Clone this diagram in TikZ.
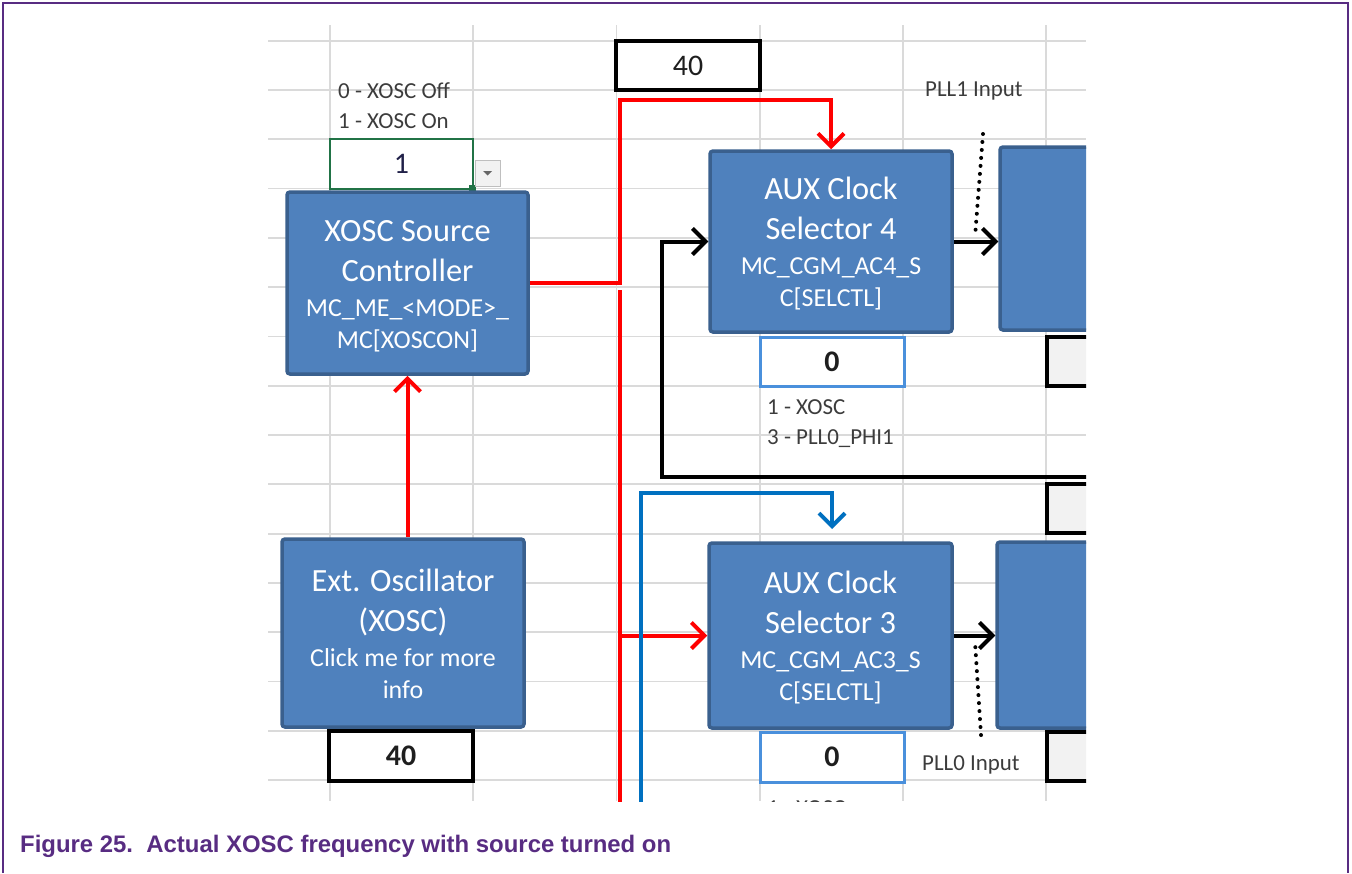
\documentclass[tikz,border=0pt]{standalone}
\usepackage{fontspec}
\setmainfont{Carlito}
\newfontfamily\capfont{Liberation Sans}
\usetikzlibrary{arrows.meta,calc}

\definecolor{framepurple}{RGB}{88,44,130}
\definecolor{cellgrid}{RGB}{218,218,218}
\definecolor{blkfill}{RGB}{79,129,189}
\definecolor{blkedge}{RGB}{58,96,142}
\definecolor{xred}{RGB}{255,0,0}
\definecolor{xblue}{RGB}{0,112,192}
\definecolor{selblue}{RGB}{74,144,220}
\definecolor{xgreen}{RGB}{33,115,70}
\definecolor{labelgray}{RGB}{60,60,60}
\definecolor{cellfill}{RGB}{242,242,242}
\definecolor{valink}{RGB}{30,30,30}
\definecolor{oneink}{RGB}{32,32,72}

% four centred text lines inside a block: two title lines, two register lines
\newcommand\blocktext[5]{%
  \node[ttl] (#1-l1) at ($(#1.center)+(0,-42)$) {#2};
  \node[ttl] (#1-l2) at ($(#1.center)+(0,-2)$) {#3};
  \node[reg] (#1-l3) at ($(#1.center)+(0,33)$) {#4};
  \node[reg] (#1-l4) at ($(#1.center)+(0,65)$) {#5};
}

\begin{document}
\begin{tikzpicture}[x=1bp, y=-1bp,
  blk/.style={draw=blkedge, fill=blkfill, line width=3.5bp, rounded corners=3bp, inner sep=0},
  ttl/.style={text=white, font=\fontsize{32.5}{38}\selectfont, anchor=base, inner sep=0},
  reg/.style={text=white, font=\fontsize{26}{30}\selectfont, anchor=base, inner sep=0},
  valbox/.style={fill=white, line width=3.5bp, inner sep=0, text=valink,
                 font=\fontsize{30}{36}\selectfont},
  graycell/.style={draw=black, fill=cellfill, line width=3.5bp, inner sep=0},
  lbl/.style={text=labelgray, font=\fontsize{23}{28}\selectfont, anchor=base west, inner sep=0},
  wire/.style={line width=4bp},
  arrowhd/.style={-{Straight Barb[length=13bp,width=26bp]}},
  dotline/.style={line width=4bp, line cap=round, dash pattern=on 0bp off 8bp},
  cellline/.style={draw=cellgrid, line width=1.8bp}]

\useasboundingbox (0,0) rectangle (1352,873);
\fill[white] (0,0) rectangle (1352,873);

% page frame and caption
\draw[framepurple, line width=2.5bp] (3,873) -- (3,3) -- (1348,3) -- (1348,873);
\node[anchor=base west, inner sep=0, text=framepurple,
      font=\capfont\bfseries\fontsize{24}{28}\selectfont] (cap) at (20,852)
  {Figure 25.\hspace{0.556em}Actual XOSC frequency with source turned on};

\begin{scope}
\clip (268,22) rectangle (1086,801);

% worksheet cell grid
\foreach \k in {0,...,15}
  \draw[cellline] (268,{40.7+49.29*\k}) -- (1086,{40.7+49.29*\k});
\foreach \x in {330,473.2,616.4,759.6,902.8,1046}
  \draw[cellline] (\x,25) -- (\x,801);

% value cells
\node[valbox, draw=black, minimum width=144bp, minimum height=49bp] (top40) at (688,65.5) {40};
\node[valbox, draw=xgreen, line width=2.2bp, text=oneink, minimum width=143bp, minimum height=50bp] (grn) at (401.5,164) {1};
\fill[xgreen] (469,185) rectangle (476,192);
\node[draw=black!25, fill=black!5, line width=1bp, minimum width=25bp, minimum height=26bp, inner sep=0] (dd) at (487.5,173) {};
\fill[black!60] ($(dd.center)+(-4.5,-2)$) -- ++(9,0) -- ++(-4.5,4.5) -- cycle;
\node[valbox, draw=selblue, line width=3bp, font=\fontsize{30}{36}\selectfont\bfseries, minimum width=144bp, minimum height=49bp] (sel4) at (832,361.5) {0};
\node[valbox, draw=selblue, line width=3bp, font=\fontsize{30}{36}\selectfont\bfseries, minimum width=144bp, minimum height=50bp] (sel3) at (832,757) {0};
\node[valbox, draw=black, font=\fontsize{30}{36}\selectfont\bfseries, minimum width=144bp, minimum height=50bp] (bot40) at (401,756) {40};
\node[graycell, minimum width=80bp, minimum height=49bp] (g1) at (1087,361.5) {};
\node[graycell, minimum width=80bp, minimum height=49bp] (g2) at (1087,508.5) {};
\node[graycell, minimum width=80bp, minimum height=49bp] (g3) at (1087,756.5) {};

% function blocks
\node[blk, minimum width=241bp, minimum height=182bp] (ctl) at (407.5,283) {};
\node[blk, minimum width=242bp, minimum height=188bp] (ext) at (403,633) {};
\node[blk, minimum width=242bp, minimum height=181bp] (aux4) at (831,241.5) {};
\node[blk, minimum width=243bp, minimum height=185bp] (aux3) at (830.5,635.5) {};
\node[blk, minimum width=110bp, minimum height=183bp] (r1) at (1055,238.5) {};
\node[blk, minimum width=113bp, minimum height=186bp] (r2) at (1053.5,635) {};

\blocktext{ctl}{XOSC Source}{Controller}{MC\_ME\_<MODE>\_}{MC[XOSCON]}
\blocktext{ext}{Ext. Oscillator}{(XOSC)}{Click me for more}{info}
\blocktext{aux4}{AUX Clock}{Selector 4}{MC\_CGM\_AC4\_S}{C[SELCTL]}
\blocktext{aux3}{AUX Clock}{Selector 3}{MC\_CGM\_AC3\_S}{C[SELCTL]}

% cell notes
\node[lbl] (offnote) at (338,98) {0 - XOSC Off};
\node[lbl] (onnote) at (338,128) {1 - XOSC On};
\node[lbl] (sel4n1) at (767,414) {1 - XOSC};
\node[lbl] (sel4n2) at (767,444) {3 - PLL0\_PHI1};
\node[lbl] (sel3n1) at (767,815) {1 - XOSC};
\node[lbl] (pll1) at (925,96) {PLL1 Input};
\node[lbl] (pll0) at (922,770) {PLL0 Input};

% red XOSC paths
\coordinate (rtop) at (620,100);
\coordinate (rlow) at (620,290);
\coordinate (rend) at (620,805);
\draw[xred, wire, arrowhd] (ext.north -| ctl.south) -- (ctl.south);
\draw[xred, wire, arrowhd] (ctl.east) -| (rtop) -| (aux4.north);
\draw[xred, wire] (rlow) -- (rend);
\draw[xred, wire, arrowhd] (aux3.west -| rlow) -- (aux3.west);

% blue path
\coordinate (bend) at (641,805);
\coordinate (bturn) at (641,493);
\coordinate (btip) at (832,529);
\draw[xblue, wire, arrowhd] (bend) -- (bturn) -| (btip);

% black feedback and outputs
\coordinate (kin) at (1090,477);
\coordinate (kcorner) at (662,477);
\draw[black, wire, arrowhd] (kin) -- (kcorner) |- (aux4.west);
\draw[black, wire, arrowhd] (aux4.east) -- (aux4.east -| r1.west);
\draw[black, wire, arrowhd] (aux3.east) -- (aux3.east -| r2.west);

% PLL input pointers
\coordinate (p1a) at (983,134);
\coordinate (p1b) at (975,237);
\coordinate (p0a) at (981,735);
\coordinate (p0b) at (975,642);
\draw[dotline] (p1a) -- (p1b);
\draw[dotline] (p0a) -- (p0b);
\end{scope}

\end{tikzpicture}
\end{document}
